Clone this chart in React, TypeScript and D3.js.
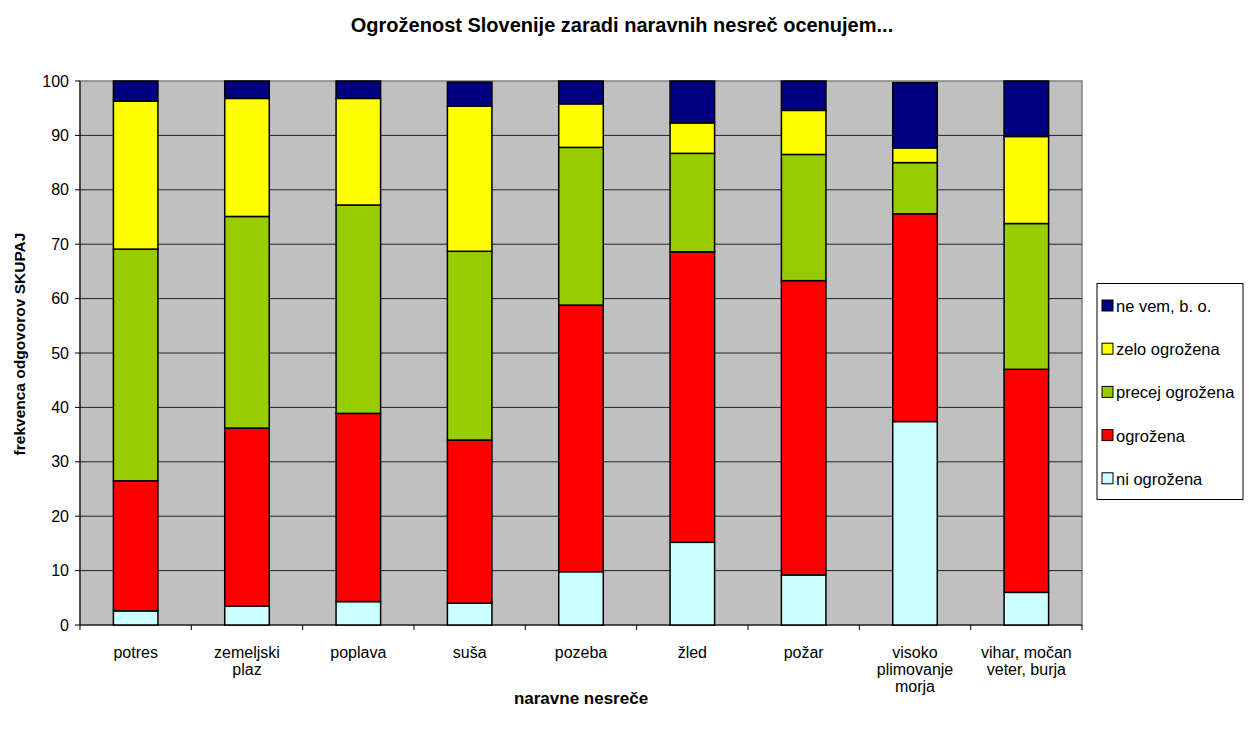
import React from "react";
import * as d3 from "d3";

const categories: string[][] = [
  ["potres"],
  ["zemeljski", "plaz"],
  ["poplava"],
  ["suša"],
  ["pozeba"],
  ["žled"],
  ["požar"],
  ["visoko", "plimovanje", "morja"],
  ["vihar, močan", "veter, burja"],
];

const seriesNames = ["ni ogrožena", "ogrožena", "precej ogrožena", "zelo ogrožena", "ne vem, b. o."];
const seriesColors = ["#CCFFFF", "#FF0000", "#99CC00", "#FFFF00", "#000080"];

const niOgrozena = [2.6, 3.5, 4.3, 4.0, 9.8, 15.2, 9.2, 37.4, 6.0];
const ogrozena = [23.9, 32.7, 34.6, 30.0, 49.0, 53.4, 54.1, 38.2, 41.0];
const precejOgrozena = [42.6, 38.9, 38.3, 34.7, 29.0, 18.1, 23.2, 9.4, 26.8];
const zeloOgrozena = [27.2, 21.7, 19.6, 26.7, 8.0, 5.6, 8.1, 2.7, 16.0];
const neVem = [3.7, 3.2, 3.2, 4.4, 4.2, 7.7, 5.4, 12.0, 10.2];

const yTicks = [0, 10, 20, 30, 40, 50, 60, 70, 80, 90, 100];

const FONT = "'Liberation Sans', Arial, sans-serif";

export default function App() {
  const W = 1249, H = 731;
  const left = 80, right = 1082, top = 81, bottom = 625;
  const seriesData = [niOgrozena, ogrozena, precejOgrozena, zeloOgrozena, neVem];
  const idx = categories.map((_, i) => i);
  const x = d3.scaleBand<number>().domain(idx).range([left, right]).paddingInner(0.6).paddingOuter(0.3);
  const xOuter = d3.scaleBand<number>().domain(idx).range([left, right]).padding(0);
  const y = d3.scaleLinear().domain([0, 100]).range([bottom, top]);

  const table = idx.map((i) => {
    const o: Record<string, number> = { i };
    seriesNames.forEach((s, k) => (o[s] = seriesData[k][i]));
    return o;
  });
  const stacked = d3.stack<Record<string, number>>().keys(seriesNames)(table);

  return (
    <svg width={W} height={H} style={{ position: "absolute", left: 0, top: 0, background: "#fff" }} fontFamily={FONT}>
      <text x={622} y={32} textAnchor="middle" fontSize={20} fontWeight="bold">
        Ogroženost Slovenije zaradi naravnih nesreč ocenujem...
      </text>
      <rect x={left} y={top} width={right - left} height={bottom - top} fill="#C0C0C0" stroke="#808080" strokeWidth={1.5} />
      {yTicks.map((t) => (
        <g key={t}>
          {t > 0 && t < 100 && <line x1={left} x2={right} y1={y(t)} y2={y(t)} stroke="#222" strokeWidth={1} />}
          <line x1={left - 5} x2={left} y1={y(t)} y2={y(t)} stroke="#000" />
          <text x={left - 11} y={y(t) + 5.5} textAnchor="end" fontSize={16}>{t}</text>
        </g>
      ))}
      <line x1={left} x2={left} y1={top} y2={bottom} stroke="#000" />
      <line x1={left} x2={right} y1={bottom} y2={bottom} stroke="#000" />
      {d3.range(categories.length + 1).map((k) => {
        const xx = k < categories.length ? xOuter(k)! : right;
        return <line key={k} x1={xx} x2={xx} y1={bottom} y2={bottom + 5} stroke="#000" />;
      })}
      {stacked.map((layer, k) => (
        <g key={k}>
          {layer.map((d, i) => (
            <rect key={i} x={x(i)} width={x.bandwidth()} y={y(d[1])} height={y(d[0]) - y(d[1])}
              fill={seriesColors[k]} stroke="#000" strokeWidth={1.5} />
          ))}
        </g>
      ))}
      {categories.map((lines, i) => (
        <text key={i} textAnchor="middle" fontSize={16}>
          {lines.map((l, j) => (
            <tspan key={j} x={x(i)! + x.bandwidth() / 2} y={658 + j * 17}>{l}</tspan>
          ))}
        </text>
      ))}
      <text x={(left + right) / 2} y={704} textAnchor="middle" fontSize={17} fontWeight="bold">naravne nesreče</text>
      <text transform={`translate(25, 344) rotate(-90)`} textAnchor="middle" fontSize={15.5} fontWeight="bold">
        frekvenca odgovorov SKUPAJ
      </text>
      <rect x={1097} y={283.5} width={146} height={216} fill="#fff" stroke="#000" strokeWidth={1} />
      {seriesNames.slice().reverse().map((s, j) => {
        const k = seriesNames.length - 1 - j;
        const cy = 306 + j * 43.2;
        return (
          <g key={s}>
            <rect x={1102} y={cy - 6} width={11} height={11} fill={seriesColors[k]} stroke="#000" strokeWidth={1} />
            <text x={1116} y={cy + 6} fontSize={16.5}>{s}</text>
          </g>
        );
      })}
    </svg>
  );
}
